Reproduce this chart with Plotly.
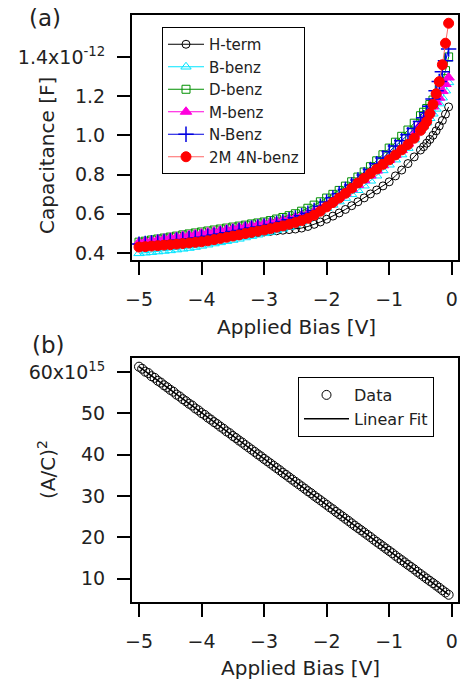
import plotly.graph_objects as go

# ---------------- data : panel (a) ----------------
bias_a = [-5.0, -4.9, -4.8, -4.7, -4.6, -4.5, -4.4, -4.3, -4.2, -4.1,
          -4.0, -3.9, -3.8, -3.7, -3.6, -3.5, -3.4, -3.3, -3.2, -3.1,
          -3.0, -2.9, -2.8, -2.7, -2.6, -2.5, -2.4, -2.3, -2.2, -2.1,
          -2.0, -1.9, -1.8, -1.7, -1.6, -1.5, -1.4, -1.3, -1.2, -1.1,
          -1.0, -0.9, -0.8, -0.7, -0.6, -0.5,
          -0.45, -0.4, -0.35, -0.3, -0.25, -0.2, -0.15, -0.1, -0.05]

h_term = [0.440, 0.442, 0.444, 0.446, 0.448, 0.450, 0.452, 0.454, 0.456, 0.458,
          0.460, 0.465, 0.470, 0.475, 0.480, 0.485, 0.490, 0.495, 0.499, 0.503,
          0.507, 0.510, 0.513, 0.516, 0.519, 0.522, 0.527, 0.535, 0.546, 0.558,
          0.572, 0.588, 0.604, 0.622, 0.641, 0.661, 0.681, 0.701, 0.721, 0.742,
          0.763, 0.793, 0.823, 0.856, 0.890, 0.925,
          0.942, 0.960, 0.979, 1.000, 1.023, 1.048, 1.076, 1.108, 1.145]

b_benz = [0.398, 0.401, 0.404, 0.407, 0.410, 0.413, 0.417, 0.421, 0.425, 0.430,
          0.436, 0.442, 0.448, 0.454, 0.460, 0.466, 0.472, 0.479, 0.486, 0.493,
          0.500, 0.507, 0.515, 0.523, 0.532, 0.545, 0.558, 0.573, 0.590, 0.609,
          0.628, 0.645, 0.662, 0.680, 0.699, 0.720, 0.743, 0.768, 0.794, 0.821,
          0.850, 0.876, 0.902, 0.935, 0.978, 1.025,
          1.045, 1.065, 1.087, 1.110, 1.135, 1.162, 1.192, 1.228, 1.270]

d_benz = [0.455, 0.460, 0.466, 0.471, 0.476, 0.481, 0.486, 0.492, 0.497, 0.502,
          0.507, 0.512, 0.517, 0.522, 0.527, 0.532, 0.537, 0.542, 0.548, 0.553,
          0.558, 0.565, 0.573, 0.581, 0.590, 0.600, 0.613, 0.628, 0.644, 0.661,
          0.680, 0.699, 0.719, 0.741, 0.763, 0.787, 0.813, 0.840, 0.870, 0.901,
          0.935, 0.965, 0.995, 1.027, 1.062, 1.100,
          1.118, 1.137, 1.157, 1.180, 1.205, 1.235, 1.272, 1.330, 1.400]

m_benz = [0.455, 0.460, 0.464, 0.469, 0.473, 0.478, 0.482, 0.487, 0.491, 0.496,
          0.500, 0.505, 0.510, 0.515, 0.520, 0.525, 0.530, 0.535, 0.540, 0.545,
          0.550, 0.555, 0.561, 0.567, 0.574, 0.582, 0.591, 0.601, 0.612, 0.628,
          0.645, 0.664, 0.684, 0.704, 0.725, 0.747, 0.771, 0.795, 0.820, 0.847,
          0.875, 0.900, 0.925, 0.958, 1.005, 1.055,
          1.077, 1.100, 1.123, 1.147, 1.170, 1.192, 1.226, 1.262, 1.295]

n_benz = [0.445, 0.448, 0.452, 0.455, 0.459, 0.462, 0.466, 0.469, 0.473, 0.476,
          0.480, 0.485, 0.491, 0.497, 0.503, 0.509, 0.515, 0.521, 0.527, 0.532,
          0.538, 0.545, 0.552, 0.560, 0.569, 0.579, 0.590, 0.603, 0.617, 0.638,
          0.660, 0.681, 0.702, 0.724, 0.747, 0.772, 0.798, 0.826, 0.855, 0.885,
          0.917, 0.945, 0.973, 1.003, 1.035, 1.070,
          1.090, 1.115, 1.148, 1.185, 1.228, 1.275, 1.325, 1.380, 1.440]

m2n4_benz = [0.430, 0.432, 0.435, 0.437, 0.440, 0.442, 0.445, 0.448, 0.451, 0.454,
             0.457, 0.462, 0.468, 0.474, 0.480, 0.486, 0.492, 0.499, 0.505, 0.511,
             0.517, 0.524, 0.531, 0.538, 0.546, 0.555, 0.565, 0.577, 0.593, 0.613,
             0.635, 0.657, 0.680, 0.704, 0.730, 0.757, 0.781, 0.805, 0.828, 0.852,
             0.875, 0.900, 0.926, 0.953, 0.985, 1.025,
             1.047, 1.070, 1.110, 1.158, 1.212, 1.274, 1.360, 1.470, 1.572]

cap_ticks = [0.4, 0.6, 0.8, 1.0, 1.2, 1.4]
cap_ticktext = ["0.4", "0.6", "0.8", "1.0", "1.2", "1.4x10<sup>-12</sup>"]

# ---------------- data : panel (b) ----------------
bias_b = [-5.0, -4.95, -4.9, -4.85, -4.8, -4.75, -4.7, -4.65, -4.6, -4.55,
          -4.5, -4.45, -4.4, -4.35, -4.3, -4.25, -4.2, -4.15, -4.1, -4.05,
          -4.0, -3.95, -3.9, -3.85, -3.8, -3.75, -3.7, -3.65, -3.6, -3.55,
          -3.5, -3.45, -3.4, -3.35, -3.3, -3.25, -3.2, -3.15, -3.1, -3.05,
          -3.0, -2.95, -2.9, -2.85, -2.8, -2.75, -2.7, -2.65, -2.6, -2.55,
          -2.5, -2.45, -2.4, -2.35, -2.3, -2.25, -2.2, -2.15, -2.1, -2.05,
          -2.0, -1.95, -1.9, -1.85, -1.8, -1.75, -1.7, -1.65, -1.6, -1.55,
          -1.5, -1.45, -1.4, -1.35, -1.3, -1.25, -1.2, -1.15, -1.1, -1.05,
          -1.0, -0.95, -0.9, -0.85, -0.8, -0.75, -0.7, -0.65, -0.6, -0.55,
          -0.5, -0.45, -0.4, -0.35, -0.3, -0.25, -0.2, -0.15, -0.1, -0.05]

ac2 = [61.30, 60.80, 60.10, 59.75, 59.00, 58.60, 57.90, 57.45, 56.80, 56.30,
       55.70, 55.25, 54.55, 54.10, 53.45, 52.95, 52.35, 51.90, 51.20, 50.75,
       50.10, 49.65, 49.00, 48.50, 47.90, 47.40, 46.80, 46.30, 45.65, 45.20,
       44.55, 44.05, 43.45, 42.95, 42.35, 41.80, 41.25, 40.70, 40.10, 39.60,
       39.00, 38.45, 37.90, 37.35, 36.80, 36.25, 35.65, 35.15, 34.55, 34.00,
       33.45, 32.90, 32.35, 31.80, 31.20, 30.70, 30.10, 29.55, 29.00, 28.45,
       27.90, 27.30, 26.80, 26.20, 25.65, 25.10, 24.55, 24.00, 23.40, 22.85,
       22.30, 21.75, 21.20, 20.65, 20.10, 19.50, 18.95, 18.40, 17.85, 17.30,
       16.75, 16.20, 15.60, 15.05, 14.50, 13.95, 13.40, 12.85, 12.30, 11.70,
       11.15, 10.60, 10.05, 9.50, 8.95, 8.40, 7.85, 7.25, 6.70, 6.15]

fit_bias = [-5.0, -0.05]
fit_ac2 = [61.30, 6.16]

ac2_ticks = [10, 20, 30, 40, 50, 60]
ac2_ticktext = ["10", "20", "30", "40", "50", "60x10<sup>15</sup>"]

bias_ticks = [-5, -4, -3, -2, -1, 0]

# ---------------- figure ----------------
FONT = "DejaVu Sans"
W, H = 461, 685
fig = go.Figure()

styles = [
    ("H-term", h_term, "circle-open", "black", "black", 8),
    ("B-benz", b_benz, "triangle-up-open", "#00e5ff", "#00e5ff", 9),
    ("D-benz", d_benz, "square-open", "#009000", "#009000", 8),
    ("M-benz", m_benz, "triangle-up", "#ff00dd", "#ff00dd", 10),
    ("N-Benz", n_benz, "cross-thin-open", "#0000e0", "#0000e0", 11),
    ("2M 4N-benz", m2n4_benz, "circle", "#ff0000", "#ff6666", 10),
]
for name, vals, sym, mcol, lcol, sz in styles:
    fig.add_trace(go.Scatter(
        x=bias_a, y=vals, name=name, mode="lines+markers",
        line=dict(color=lcol, width=1),
        marker=dict(symbol=sym, size=sz, color=mcol,
                    line=dict(color=mcol, width=1.5 if "cross" in sym else 1)),
        xaxis="x", yaxis="y", legend="legend"))

fig.add_trace(go.Scatter(
    x=bias_b, y=ac2, name="Data", mode="markers",
    marker=dict(symbol="circle-open", size=9, color="black", line=dict(width=1)),
    xaxis="x2", yaxis="y2", legend="legend2"))
fig.add_trace(go.Scatter(
    x=fit_bias, y=fit_ac2, name="Linear Fit", mode="lines",
    line=dict(color="black", width=1.5),
    xaxis="x2", yaxis="y2", legend="legend2"))

x0, x1 = 132 / W, 458 / W
ax_common = dict(showgrid=False, zeroline=False, showline=True, mirror=True,
                 automargin=False,
                 linecolor="black", linewidth=2, ticks="outside", ticklen=13,
                 tickwidth=2, tickcolor="black",
                 tickfont=dict(family=FONT, size=19, color="#222"))

fig.update_layout(
    template="none",
    width=W, height=H, margin=dict(l=0, r=0, t=0, b=0, pad=0),
    paper_bgcolor="white", plot_bgcolor="white",
    font=dict(family=FONT, color="#222"),
    xaxis=dict(domain=[x0, x1], anchor="y", range=[-5.112, 0.10],
               tickvals=bias_ticks, ticklabelstandoff=8, **ax_common),
    yaxis=dict(domain=[1 - 260 / H, 1 - 15 / H], anchor="x", range=[0.364, 1.614],
               tickvals=cap_ticks, ticktext=cap_ticktext, ticklabelstandoff=8, **ax_common),
    xaxis2=dict(domain=[x0, x1], anchor="y2", range=[-5.112, 0.10],
                tickvals=bias_ticks, ticklabelstandoff=8, **ax_common),
    yaxis2=dict(domain=[1 - 602 / H, 1 - 358 / H], anchor="x2", range=[4.4, 63.4],
                tickvals=ac2_ticks, ticktext=ac2_ticktext, ticklabelstandoff=8, **ax_common),
    legend=dict(x=162 / W, y=1 - 27 / H, xanchor="left", yanchor="top",
                bgcolor="white", bordercolor="black", borderwidth=1, itemwidth=36,
                font=dict(family=FONT, size=15, color="#222")),
    legend2=dict(x=298 / W, y=1 - 377 / H, xanchor="left", yanchor="top",
                 bgcolor="white", bordercolor="black", borderwidth=1, itemwidth=45,
                 font=dict(family=FONT, size=16, color="#222")),
    showlegend=True,
)

ann = dict(xref="paper", yref="paper", showarrow=False,
           xanchor="center", yanchor="middle",
           font=dict(family=FONT, size=20, color="#222"))
fig.add_annotation(text="Capacitance [F]", x=47 / W, y=1 - 156 / H, textangle=-90, **ann)
fig.add_annotation(text="(A/C)<sup>2</sup>", x=47 / W, y=1 - 470 / H, textangle=-90, **ann)
fig.add_annotation(text="Applied Bias [V]", x=296 / W, y=1 - 327 / H, **ann)
fig.add_annotation(text="Applied Bias [V]", x=300 / W, y=1 - 668 / H, **ann)
ann_big = dict(ann)
ann_big["font"] = dict(family=FONT, size=23, color="#222")
fig.add_annotation(text="(a)", x=45 / W, y=1 - 18 / H, **ann_big)
fig.add_annotation(text="(b)", x=48 / W, y=1 - 345 / H, **ann_big)

fig.write_html("out.html")
